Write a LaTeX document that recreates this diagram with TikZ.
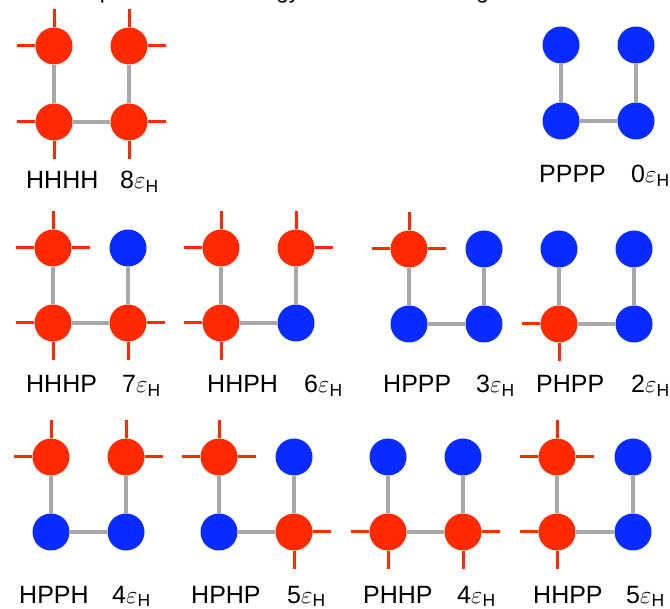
\documentclass[tikz,border=0pt]{standalone}
\usepackage{fontspec}
\setmainfont{Liberation Sans}
\definecolor{hred}{HTML}{FF2A00}
\definecolor{pblue}{HTML}{0A2BFF}
\definecolor{bondgrey}{HTML}{A8A8A8}
% energy in units of epsilon_H
\newcommand\eH[1]{#1$\varepsilon$\textsubscript{H}}
\begin{document}
\begin{tikzpicture}[x=1pt,y=-1pt,
  site/.style={circle, inner sep=0pt, minimum size=37pt},
  hsite/.style={site, fill=hred},
  psite/.style={site, fill=pblue},
  bond/.style={draw=bondgrey, line width=3.2pt},
  stub/.style={draw=hred, line width=3pt},
  lab/.style={anchor=base west, inner sep=0pt, font=\fontsize{25}{30}\selectfont},
  titlelab/.style={anchor=base west, inner sep=0pt, font=\fontsize{22.5}{27}\selectfont}]
\useasboundingbox (0,0) rectangle (670,609);
\clip (0,0) rectangle (670,609);

% title, running above the top edge
\node[titlelab] (title) at (61,-1) {Simple solvation energy of HP chain configurations};

% ---- HHHH ----
\node[hsite] (a1) at (54,46) {};
\node[hsite] (a2) at (54,122) {};
\node[hsite] (a3) at (129,122) {};
\node[hsite] (a4) at (129,46) {};
\draw[bond] (a1) -- (a2) -- (a3) -- (a4);
\draw[stub] (a1) -- ++(0,-37);  \draw[stub] (a1) -- ++(-37,0);
\draw[stub] (a2) -- ++(-37,0);  \draw[stub] (a2) -- ++(0,37);
\draw[stub] (a3) -- ++(37,0);   \draw[stub] (a3) -- ++(0,37);
\draw[stub] (a4) -- ++(0,-37);  \draw[stub] (a4) -- ++(37,0);
\node[lab] (aname) at (26,189) {HHHH};
\node[lab] (aen) at (120,189) {\eH{8}};

% ---- PPPP ----
\node[psite] (b1) at (561,45) {};
\node[psite] (b2) at (561,121) {};
\node[psite] (b3) at (636,121) {};
\node[psite] (b4) at (636,45) {};
\draw[bond] (b1) -- (b2) -- (b3) -- (b4);
\node[lab] (bname) at (539,183) {PPPP};
\node[lab] (ben) at (631,183) {\eH{0}};

% ---- HHHP ----
\node[hsite] (c1) at (53,248) {};
\node[hsite] (c2) at (53,323) {};
\node[hsite] (c3) at (128,323) {};
\node[psite] (c4) at (128,248) {};
\draw[bond] (c1) -- (c2) -- (c3) -- (c4);
\draw[stub] (c1) -- ++(0,-37);  \draw[stub] (c1) -- ++(-37,0);  \draw[stub] (c1) -- ++(37,0);
\draw[stub] (c2) -- ++(-37,0);  \draw[stub] (c2) -- ++(0,37);
\draw[stub] (c3) -- ++(37,0);   \draw[stub] (c3) -- ++(0,37);
\node[lab] (cname) at (26,393) {HHHP};
\node[lab] (cen) at (122,393) {\eH{7}};

% ---- HHPH ----
\node[hsite] (d1) at (221,248) {};
\node[hsite] (d2) at (221,323) {};
\node[psite] (d3) at (296,323) {};
\node[hsite] (d4) at (296,248) {};
\draw[bond] (d1) -- (d2) -- (d3) -- (d4);
\draw[stub] (d1) -- ++(0,-37);  \draw[stub] (d1) -- ++(-37,0);
\draw[stub] (d2) -- ++(-37,0);  \draw[stub] (d2) -- ++(0,37);
\draw[stub] (d4) -- ++(0,-37);  \draw[stub] (d4) -- ++(37,0);
\node[lab] (dname) at (207,393) {HHPH};
\node[lab] (den) at (304,393) {\eH{6}};

% ---- HPPP ----
\node[hsite] (e1) at (409,249) {};
\node[psite] (e2) at (409,324) {};
\node[psite] (e3) at (484,324) {};
\node[psite] (e4) at (484,249) {};
\draw[bond] (e1) -- (e2) -- (e3) -- (e4);
\draw[stub] (e1) -- ++(0,-37);  \draw[stub] (e1) -- ++(-37,0);  \draw[stub] (e1) -- ++(37,0);
\node[lab] (ename) at (383,393) {HPPP};
\node[lab] (een) at (476,393) {\eH{3}};

% ---- PHPP ----
\node[psite] (f1) at (559,249) {};
\node[hsite] (f2) at (559,324) {};
\node[psite] (f3) at (634,324) {};
\node[psite] (f4) at (634,249) {};
\draw[bond] (f1) -- (f2) -- (f3) -- (f4);
\draw[stub] (f2) -- ++(-37,0);  \draw[stub] (f2) -- ++(0,37);
\node[lab] (fname) at (536,393) {PHPP};
\node[lab] (fen) at (631,393) {\eH{2}};

% ---- HPPH ----
\node[hsite] (g1) at (51,457) {};
\node[psite] (g2) at (51,532) {};
\node[psite] (g3) at (126,532) {};
\node[hsite] (g4) at (126,457) {};
\draw[bond] (g1) -- (g2) -- (g3) -- (g4);
\draw[stub] (g1) -- ++(0,-37);  \draw[stub] (g1) -- ++(-37,0);
\draw[stub] (g4) -- ++(0,-37);  \draw[stub] (g4) -- ++(37,0);
\node[lab] (gname) at (19,603) {HPPH};
\node[lab] (gen) at (112,603) {\eH{4}};

% ---- HPHP ----
\node[hsite] (h1) at (219,457) {};
\node[psite] (h2) at (219,532) {};
\node[hsite] (h3) at (294,532) {};
\node[psite] (h4) at (294,457) {};
\draw[bond] (h1) -- (h2) -- (h3) -- (h4);
\draw[stub] (h1) -- ++(0,-37);  \draw[stub] (h1) -- ++(-37,0);  \draw[stub] (h1) -- ++(37,0);
\draw[stub] (h3) -- ++(37,0);   \draw[stub] (h3) -- ++(0,37);
\node[lab] (hname) at (191,603) {HPHP};
\node[lab] (hen) at (287,603) {\eH{5}};

% ---- PHHP ----
\node[psite] (i1) at (388,457) {};
\node[hsite] (i2) at (388,532) {};
\node[hsite] (i3) at (463,532) {};
\node[psite] (i4) at (463,457) {};
\draw[bond] (i1) -- (i2) -- (i3) -- (i4);
\draw[stub] (i2) -- ++(-37,0);  \draw[stub] (i2) -- ++(0,37);
\draw[stub] (i3) -- ++(37,0);   \draw[stub] (i3) -- ++(0,37);
\node[lab] (iname) at (363,603) {PHHP};
\node[lab] (ien) at (457,603) {\eH{4}};

% ---- HHPP ----
\node[hsite] (j1) at (557,457) {};
\node[hsite] (j2) at (557,532) {};
\node[psite] (j3) at (633,532) {};
\node[psite] (j4) at (633,457) {};
\draw[bond] (j1) -- (j2) -- (j3) -- (j4);
\draw[stub] (j1) -- ++(0,-37);  \draw[stub] (j1) -- ++(-37,0);  \draw[stub] (j1) -- ++(37,0);
\draw[stub] (j2) -- ++(-37,0);  \draw[stub] (j2) -- ++(0,37);
\node[lab] (jname) at (533,603) {HHPP};
\node[lab] (jen) at (626,603) {\eH{5}};
\end{tikzpicture}
\end{document}
